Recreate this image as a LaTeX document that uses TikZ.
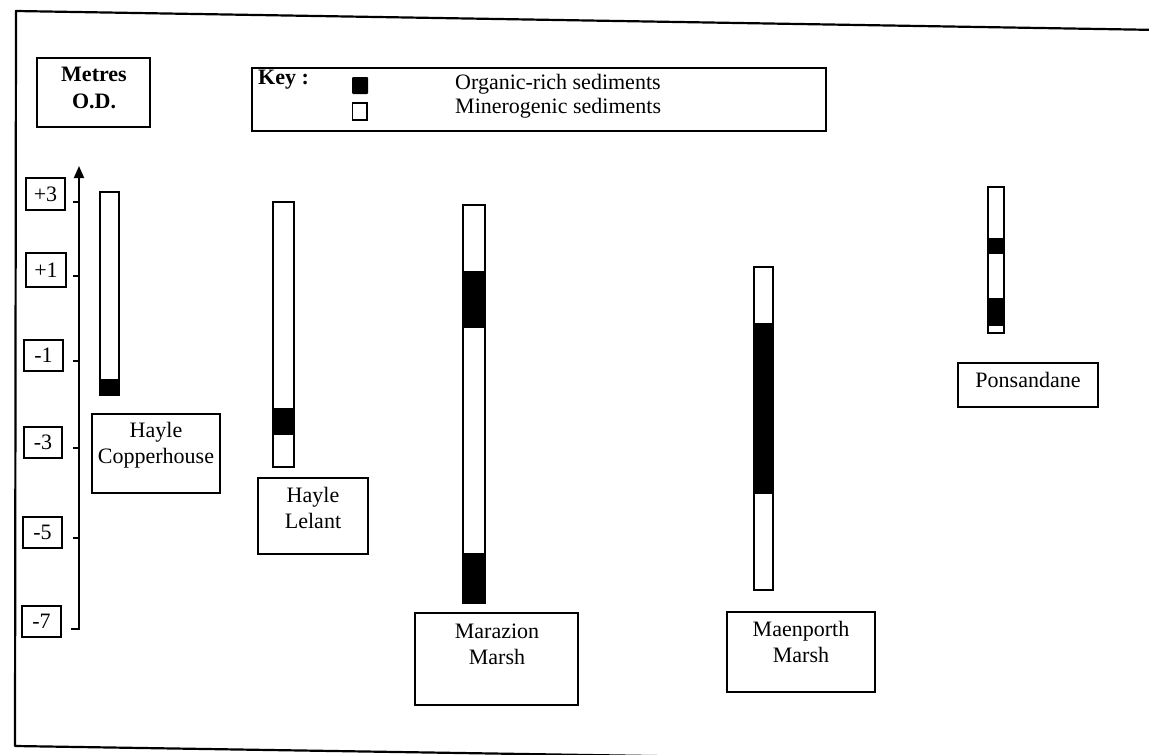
\documentclass[tikz,border=0pt]{standalone}
\usepackage{fontspec}
\setmainfont{Liberation Serif}
\usetikzlibrary{arrows.meta}
\tikzset{
  px/.style={x=1pt,y=-1pt},
  frameline/.style={line width=2.2pt,line join=round},
  boxline/.style={draw,line width=2pt,inner sep=0pt},
  lab/.style={font=\fontsize{22}{26}\selectfont,inner sep=0pt,align=center},
  corebox/.style={draw,line width=2pt,fill=white},
  organic/.style={fill=black},
}
\begin{document}
\begin{tikzpicture}[px]
\useasboundingbox (0,0) rectangle (1149,755);
\clip (0,0) rectangle (1149,755);
\fill[white] (0,0) rectangle (1149,755);
% outer frame
\draw[frameline] (1160,30) -- (16,11) -- (15,746) -- (1160,764);

% Metres box
\node[boxline,minimum width=113pt,minimum height=69pt] (metres) at (93.5,92.5) {};
\node[lab,font=\fontsize{22}{27}\selectfont\bfseries] (metrest) at (94,88) {Metres\\O.D.};

% Key box
\node[boxline,minimum width=574pt,minimum height=63pt] (key) at (539,99.5) {};
\node[lab,font=\fontsize{22}{26}\selectfont\bfseries,anchor=west] (keyt) at (258,80) {Key :};
\fill[organic,rounded corners=1pt] (352,77) rectangle (368,94);
\draw[line width=1.6pt] (352.5,103) rectangle (367,120);
\node[lab,anchor=west] (orgt) at (455,84) {Organic-rich sediments};
\node[lab,anchor=west] (mint) at (455,108) {Minerogenic sediments};

% axis
\coordinate (axtop) at (79,166);
\coordinate (axbot) at (79,629);
\coordinate (axend) at (71,629);
\draw[line width=1.8pt,-{Triangle[length=12pt,width=10pt]}] (axend) -- (axbot) -- (axtop);
\foreach \yy in {202,276,361,448,538}{
  \draw[line width=1.8pt] (73,\yy) -- (80,\yy);
}

% level labels
\node[boxline,lab,minimum width=39pt,minimum height=32pt] (l3) at (45.5,194) {+3};
\node[boxline,lab,minimum width=40pt,minimum height=34pt] (l1) at (46,270) {+1};
\node[boxline,lab,minimum width=39pt,minimum height=31pt] (lm1) at (43.5,355.5) {-1};
\node[boxline,lab,minimum width=38pt,minimum height=31pt] (lm3) at (43,442.5) {-3};
\node[boxline,lab,minimum width=39pt,minimum height=31pt] (lm5) at (42.5,532.5) {-5};
\node[boxline,lab,minimum width=39pt,minimum height=31pt] (lm7) at (41.5,621.5) {-7};

% Hayle Copperhouse
\draw[corebox] (100,192) rectangle (119,395);
\fill[organic] (100,379) rectangle (119,395);
\node[boxline,minimum width=128pt,minimum height=79pt] (hcbox) at (156,453.5) {};
\node[lab] (hct) at (156,445) {Hayle\\Copperhouse};

% Hayle Lelant
\draw[corebox] (273,202) rectangle (294,467);
\fill[organic] (273,408) rectangle (294,435);
\node[boxline,minimum width=110pt,minimum height=76pt] (hlbox) at (313,516) {};
\node[lab] (hlt) at (313,507.5) {Hayle\\Lelant};

% Marazion Marsh
\draw[corebox] (463,205) rectangle (485,603);
\fill[organic] (463,271) rectangle (485,328);
\fill[organic] (463,553) rectangle (485,603);
\node[boxline,minimum width=163pt,minimum height=92pt] (mzbox) at (496.5,659) {};
\node[lab] (mzt) at (497,644.5) {Marazion\\Marsh};

% Maenporth Marsh
\draw[corebox] (754,267) rectangle (773,590);
\fill[organic] (754,323) rectangle (773,494);
\node[boxline,minimum width=148pt,minimum height=80pt] (mpbox) at (801,652) {};
\node[lab] (mpt) at (801,641.5) {Maenporth\\Marsh};

% Ponsandane
\draw[corebox] (988,187) rectangle (1004,333);
\fill[organic] (988,238) rectangle (1004,254);
\fill[organic] (988,298) rectangle (1004,326);
\node[boxline,minimum width=140pt,minimum height=44pt] (psbox) at (1028,385) {};
\node[lab] (pst) at (1028,380) {Ponsandane};
\end{tikzpicture}
\end{document}
